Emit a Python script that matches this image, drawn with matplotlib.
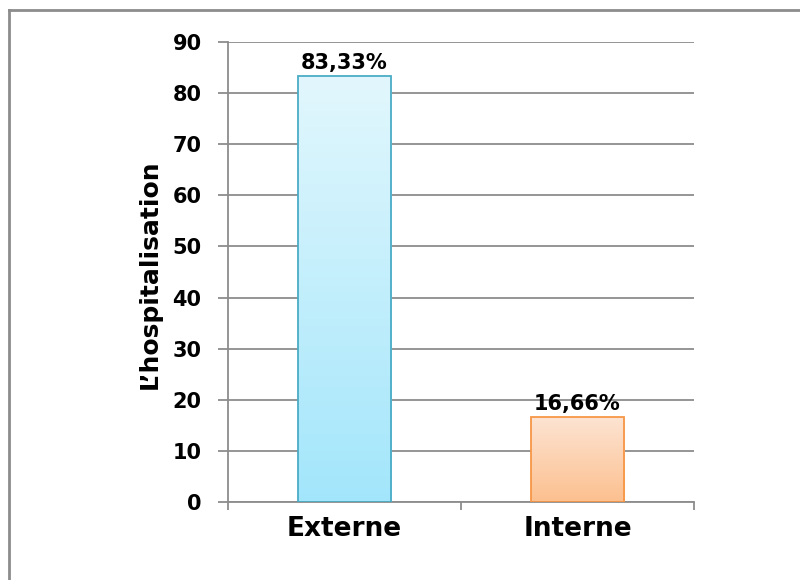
import numpy as np
import matplotlib
matplotlib.use("Agg")
import matplotlib.pyplot as plt
from matplotlib.colors import LinearSegmentedColormap
from matplotlib.lines import Line2D

categories = ["Externe", "Interne"]
values = [83.33, 16.66]
value_labels = ["83,33%", "16,66%"]
ylabel = "L\u2019hospitalisation"
yticks = [0, 10, 20, 30, 40, 50, 60, 70, 80, 90]

plt.rcParams['font.family'] = ['DejaVu Sans']

fig = plt.figure(figsize=(8, 5.8), dpi=100)
fig.patch.set_facecolor("white")
ax = fig.add_axes([228/800, 78/580, (694-228)/800, (502-42)/580])

grid_color = "#8c8c8c"
x = np.arange(len(categories))
edge_colors = ["#4bacc6", "#f79646"]
grad_colors = [("#a3e6fb", "#e2f7fd"), ("#fcc08f", "#fde4d3")]

bars = ax.bar(x, values, width=0.4, color="none", edgecolor=edge_colors,
              linewidth=1.3, zorder=3)

for bar, (c_bot, c_top) in zip(bars, grad_colors):
    x0 = bar.get_x(); w = bar.get_width(); h = bar.get_height()
    cmap = LinearSegmentedColormap.from_list("g", [c_bot, c_top])
    grad = np.linspace(0, 1, 256).reshape(-1, 1)
    im = ax.imshow(grad, cmap=cmap, origin="lower", aspect="auto",
                   extent=[x0, x0 + w, 0, h], zorder=2)
    im.set_clip_path(bar)

for xi, v, lab in zip(x, values, value_labels):
    ax.annotate(lab, (xi, v), xytext=(0, 2), textcoords="offset points",
                ha="center", va="bottom", fontsize=15, fontweight="bold",
                color="black", zorder=4)

ax.set_xlim(-0.5, 1.5)
ax.set_ylim(0, 90)
ax.set_yticks(yticks)
ax.set_yticklabels([str(t) for t in yticks])
ax.yaxis.grid(True, color=grid_color, linewidth=1.3, zorder=0)
ax.set_axisbelow(True)

ax.set_xticks(x)
ax.set_xticklabels(categories, fontsize=19, fontweight="bold")
ax.set_xticks([-0.5, 0.5, 1.5], minor=True)
ax.tick_params(axis="x", which="major", length=0, pad=10)
ax.tick_params(axis="x", which="minor", length=6, width=1.3, color=grid_color, direction="out")
ax.tick_params(axis="y", length=7, width=1.3, color=grid_color, direction="out",
               labelsize=15, pad=12)
for lab in ax.get_yticklabels():
    lab.set_fontweight("bold")

for s in ["top", "right"]:
    ax.spines[s].set_visible(False)
for s in ["left", "bottom"]:
    ax.spines[s].set_color(grid_color)
    ax.spines[s].set_linewidth(1.3)

ax.set_ylabel(ylabel, fontsize=18, fontweight="bold")
ax.yaxis.set_label_coords(-0.142, 0.495)

# outer frame (open at right and bottom)
fig.add_artist(Line2D([9/800, 9/800], [0, 1 - 10/580], transform=fig.transFigure,
                      color="#8c8c8c", linewidth=2))
fig.add_artist(Line2D([9/800, 1], [1 - 10/580, 1 - 10/580], transform=fig.transFigure,
                      color="#8c8c8c", linewidth=2))

fig.savefig("out.png", dpi=100, facecolor="white")
